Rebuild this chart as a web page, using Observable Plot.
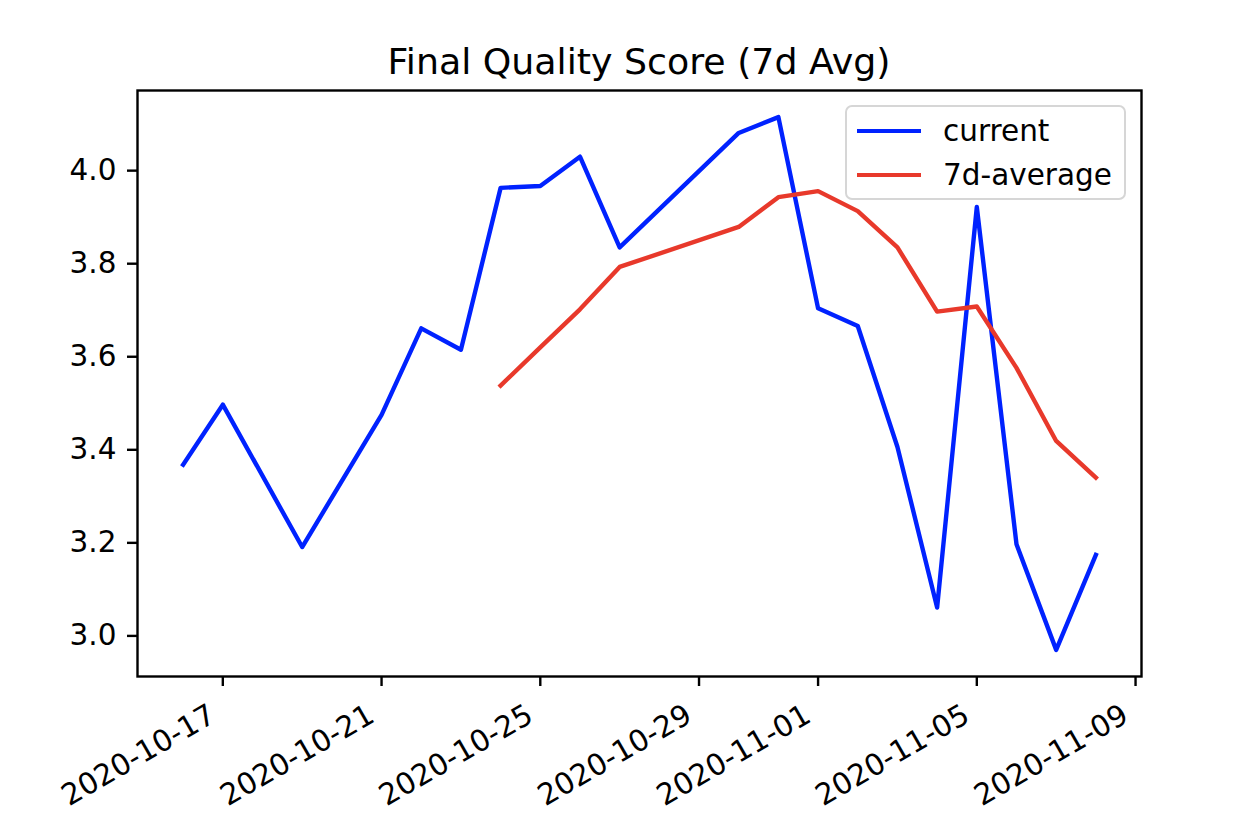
<!DOCTYPE html>
<html>
<head>
<meta charset="utf-8">
<script src="https://cdn.jsdelivr.net/npm/d3@7"></script>
<script src="https://cdn.jsdelivr.net/npm/@observablehq/plot@0.6"></script>
<style>
  html, body { margin: 0; padding: 0; background: white; }
  #wrap { position: relative; width: 1236px; height: 828px; font-family: "DejaVu Sans", sans-serif; }
  #title { height: 88px; width: 1236px; padding-left: 137px; padding-right: 95px; box-sizing: border-box;
           text-align: center; font-size: 36.3px; line-height: 36.3px; color: black; }
  #title span { position: relative; top: 44px; }
  #legend { position: absolute; left: 845px; top: 105px; width: 281px; height: 95px; box-sizing: border-box;
            border: 2px solid #d6d6d6; border-radius: 7px; background: rgba(255,255,255,0.8); font-size: 29.5px; }
  .li { position: absolute; left: 0; height: 40px; width: 100%; }
  .li .sw { position: absolute; left: 10px; width: 64px; height: 4.4px; top: 18px; }
  .li .lb { position: absolute; left: 96px; top: 2px; line-height: 36px; color: black; white-space: nowrap; }
</style>
</head>
<body>
<div id="wrap">
  <div id="title"><span>Final Quality Score (7d Avg)</span></div>
  <div id="chart"></div>
  <div id="legend"></div>
</div>
<script>
// ---- data ----
const dates = ["2020-10-16","2020-10-17","2020-10-19","2020-10-21","2020-10-22","2020-10-23",
               "2020-10-24","2020-10-25","2020-10-26","2020-10-27","2020-10-30","2020-10-31",
               "2020-11-01","2020-11-02","2020-11-03","2020-11-04","2020-11-05","2020-11-06",
               "2020-11-07","2020-11-08"];
const current = [3.368, 3.497, 3.191, 3.475, 3.661, 3.615,
                 3.963, 3.967, 4.030, 3.835, 4.081, 4.115,
                 3.704, 3.666, 3.406, 3.061, 3.922, 3.197,
                 2.970, 3.174];
const avg7 = [null, null, null, null, null, null,
              3.538, 3.620, 3.702, 3.793, 3.879, 3.943,
              3.956, 3.913, 3.835, 3.697, 3.708, 3.576,
              3.419, 3.340];
const seriesNames = ["current", "7d-average"];
const seriesColors = ["#0022ff", "#e8392b"];
const xTickLabels = ["2020-10-17","2020-10-21","2020-10-25","2020-10-29","2020-11-01","2020-11-05","2020-11-09"];
const yTickValues = [3.0, 3.2, 3.4, 3.6, 3.8, 4.0];

// ---- build table ----
const parse = d3.utcParse("%Y-%m-%d");
const rows = dates.map((d, i) => ({date: parse(d), current: current[i], avg: avg7[i]}));
const avgRows = rows.filter(r => r.avg != null);
const xTicks = xTickLabels.map(parse);

// matplotlib-like 5% margins
const xExt = d3.extent(rows, r => r.date);
const xPad = (xExt[1] - xExt[0]) * 0.05;
const yAll = rows.flatMap(r => r.avg != null ? [r.current, r.avg] : [r.current]);
const yExt = d3.extent(yAll);
const yPad = (yExt[1] - yExt[0]) * 0.05;

const chart = Plot.plot({
  width: 1236,
  height: 740,
  marginLeft: 137,
  marginRight: 95,
  marginTop: 2,
  marginBottom: 152,
  style: {fontFamily: "DejaVu Sans", fontSize: "29.5px", color: "black", background: "white", overflow: "visible"},
  x: {type: "utc", domain: [new Date(+xExt[0] - xPad), new Date(+xExt[1] + xPad)]},
  y: {domain: [yExt[0] - yPad, yExt[1] + yPad]},
  marks: [
    Plot.lineY(rows, {x: "date", y: "current", stroke: seriesColors[0], strokeWidth: 4.4,
                      strokeLinejoin: "round", strokeLinecap: "square"}),
    Plot.lineY(avgRows, {x: "date", y: "avg", stroke: seriesColors[1], strokeWidth: 4.4,
                      strokeLinejoin: "round", strokeLinecap: "square"}),
    Plot.frame({stroke: "black", strokeWidth: 2.4}),
    Plot.axisY({ticks: yTickValues, tickFormat: d3.format(".1f"), tickSize: 10, tickPadding: 11,
                strokeWidth: 2.4, label: null, fontSize: 29.5}),
    // tick marks
    Plot.axisX({ticks: xTicks, tickFormat: () => "", tickSize: 10, strokeWidth: 2.4, label: null}),
    // rotated labels
    Plot.axisX({ticks: xTicks, tickFormat: d3.utcFormat("%Y-%m-%d"), tickSize: 0,
                tickPadding: 36, tickRotate: -30, label: null, fontSize: 29.5, dx: -10})
  ]
});
document.getElementById("chart").appendChild(chart);

// legend
const lg = document.getElementById("legend");
seriesNames.forEach((n, i) => {
  const it = document.createElement("div");
  it.className = "li";
  it.style.top = (4 + i * 44) + "px";
  const sw = document.createElement("div");
  sw.className = "sw";
  sw.style.background = seriesColors[i];
  const lb = document.createElement("div");
  lb.className = "lb";
  lb.textContent = n;
  it.appendChild(sw); it.appendChild(lb);
  lg.appendChild(it);
});
</script>
</body>
</html>
